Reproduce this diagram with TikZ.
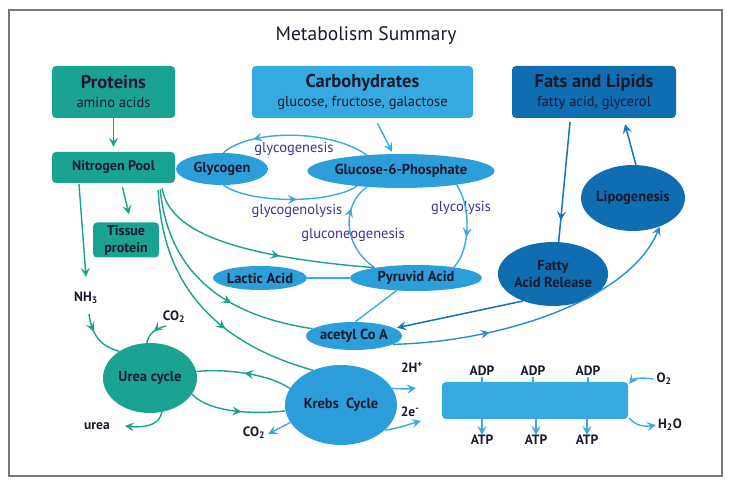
\documentclass[tikz,border=0pt]{standalone}
\usepackage{fontspec}
\setmainfont{PT Sans}
\usetikzlibrary{shapes.geometric,arrows.meta,decorations.markings}
\definecolor{tealc}{HTML}{1BA392}
\definecolor{tealline}{HTML}{1AA190}
\definecolor{lblue}{HTML}{35A9E0}
\definecolor{eblue}{HTML}{2C9FDB}
\definecolor{dblue}{HTML}{0F6DB2}
\definecolor{bline}{HTML}{3AAAE0}
\definecolor{dline}{HTML}{1672B8}
\definecolor{mline}{HTML}{2A8BD0}
\definecolor{txt}{HTML}{1A1A2E}
\definecolor{purp}{HTML}{3C3392}
\definecolor{framec}{HTML}{777777}
\tikzset{
  mtip/.tip={Stealth[length=9pt,width=9pt,inset=3.5pt]},
  ma/.style={postaction={decorate,decoration={markings,mark=at position #1 with {\arrow{mtip}}}}},
  tbox/.style={rectangle,rounded corners=4pt,inner sep=0pt,align=center,text=txt},
  ell/.style={ellipse,inner sep=0pt,text=txt,align=center,font=\bfseries\fontsize{14.5}{17}\selectfont},
  lab/.style={text=txt,inner sep=1pt,font=\bfseries\fontsize{13.5}{16}\selectfont},
  proc/.style={text=purp,inner sep=1pt,font=\fontsize{14.5}{17}\selectfont},
  tl/.style={draw=tealline,line width=1.4pt},
  bl/.style={draw=bline,line width=1.4pt},
  dl/.style={draw=dline,line width=1.5pt},
  ml/.style={draw=mline,line width=1.4pt},
}
\begin{document}
\begin{tikzpicture}[x=1pt,y=-1pt]
\useasboundingbox (0,0) rectangle (729,486);
\fill[white] (0,0) rectangle (729,486);
\draw[framec,line width=2.8pt] (9,10) rectangle (722,476);

\node[text=txt,font=\fontsize{19.5}{22}\selectfont] (title) at (366,36) {Metabolism Summary};

% boxes
\node[tbox,fill=tealc,minimum width=123,minimum height=52,font=\fontsize{14.5}{19}\selectfont] (prot) at (113.5,92)
  {{\bfseries\fontsize{18.5}{19}\selectfont Proteins}\\amino acids};
\node[tbox,fill=lblue,minimum width=221,minimum height=52,font=\fontsize{14.5}{19}\selectfont] (carb) at (362.5,92)
  {{\bfseries\fontsize{18.5}{19}\selectfont Carbohydrates}\\glucose, fructose, galactose};
\node[tbox,fill=dblue,minimum width=164,minimum height=52,font=\fontsize{14.5}{19}\selectfont] (fats) at (594,92)
  {{\bfseries\fontsize{18.5}{19}\selectfont Fats and Lipids}\\fatty acid, glycerol};
\node[tbox,fill=tealc,minimum width=123,minimum height=31,font=\bfseries\fontsize{14}{16}\selectfont] (npool) at (113.5,167.5) {Nitrogen Pool};
\node[tbox,fill=tealc,minimum width=66,minimum height=35,font=\bfseries\fontsize{14}{17}\selectfont] (tissue) at (126,240) {Tissue\\protein};

% ellipses
\node[ell,fill=eblue,minimum width=92,minimum height=32] (glyc) at (222,169) {Glycogen};
\node[ell,fill=eblue,minimum width=166,minimum height=34] (g6p) at (401,171) {Glucose-6-Phosphate};
\node[ell,fill=eblue,minimum width=94,minimum height=24] (lactic) at (260,278) {Lactic Acid};
\node[ell,fill=eblue,minimum width=132,minimum height=26] (pyr) at (416,278) {Pyruvid Acid};
\node[ell,fill=eblue,minimum width=94,minimum height=28] (acetyl) at (354,336) {acetyl Co A};
\node[ell,fill=dblue,minimum width=92,minimum height=64] (far) at (553,274) {Fatty\\Acid Release};
\node[ell,fill=dblue,minimum width=92,minimum height=66] (lipo) at (633,198) {Lipogenesis};
\node[ell,fill=tealc,minimum width=94,minimum height=70] (urea) at (150,378) {Urea cycle};
\node[ell,fill=eblue,minimum width=112,minimum height=80] (krebs) at (341,405) {Krebs\enspace Cycle};
\node[tbox,fill=lblue,minimum width=186,minimum height=37] (etc) at (535,400.5) {};

% process labels
\node[proc] (lgen) at (294,149) {glycogenesis};
\node[proc] (lgly) at (297,211) {glycogenolysis};
\node[proc] (lglyc) at (461,208) {glycolysis};
\node[proc] (lneo) at (353,235) {gluconeogenesis};

% plain labels
\node[lab] (nh3) at (86,298) {NH\textsubscript{3}};
\node[lab] (co2a) at (174,317) {CO\textsubscript{2}};
\node[lab] (urealab) at (97,426) {urea};
\node[lab] (co2b) at (254,433) {CO\textsubscript{2}};
\node[lab] (hplus) at (412,367) {2H\textsuperscript{+}};
\node[lab] (elec) at (410,412) {2e\textsuperscript{-}};
\node[lab] (adp1) at (482,371) {ADP};
\node[lab] (adp2) at (533,371) {ADP};
\node[lab] (adp3) at (588,371) {ADP};
\node[lab] (atp1) at (482,440) {ATP};
\node[lab] (atp2) at (536,440) {ATP};
\node[lab] (atp3) at (587,440) {ATP};
\node[lab] (o2) at (664,379) {O\textsubscript{2}};
\node[lab] (h2o) at (670,425) {H\textsubscript{2}O};
\coordinate (htip) at (416,388);
\coordinate (etip) at (421,421);

% protein connectors
\draw[tl,-{mtip}] (prot.south) -- ([yshift=5pt]npool.north);
\draw[tl,-{mtip}] ([xshift=9pt,yshift=-4pt]npool.south) -- ([xshift=3pt,yshift=8pt]tissue.north);
\draw[tl,-{mtip}] ([xshift=-34.5pt,yshift=-1pt]npool.south) -- ([xshift=0pt,yshift=14pt]nh3.north);
\draw[tl,ma=0.6] ([xshift=-13pt,yshift=-5pt]npool.south east) .. controls (168,225) and (215,255) .. (pyr.166);
\draw[tl,ma=0.62] ([xshift=-15pt,yshift=-6pt]npool.south east) .. controls (168,270) and (220,315) .. (acetyl.170);
\draw[tl,ma=0.62] ([xshift=-17pt,yshift=-7pt]npool.south east) .. controls (162,275) and (205,340) .. (krebs.129);

% carbohydrate connectors
\draw[bl,-{mtip}] ([xshift=15pt,yshift=-5pt]carb.south) -- ([xshift=-9pt,yshift=2pt]g6p.north);
\draw[bl,ma=0.78] (g6p.155) .. controls (330,129) and (250,129) .. (glyc.85);
\draw[bl,ma=0.55] (glyc.-85) .. controls (250,204) and (330,204) .. (g6p.199);
\draw[bl,ma=0.72] (pyr.166) .. controls (342,245) and (342,205) .. (g6p.205);
\draw[bl,ma=0.62] (g6p.-14) .. controls (471,205) and (471,250) .. (pyr.16);
\draw[bl] (lactic.east) -- (pyr.west);
\draw[bl] (pyr.213) -- (acetyl.85);

% lipid connectors
\draw[dl,ma=0.82] ([xshift=-24pt,yshift=-4pt]fats.south) -- (far.80);
\draw[dl,-{mtip}] (lipo.85) -- ([xshift=31pt,yshift=-6pt]fats.south);
\draw[dl,-{mtip}] (far.222) -- ([xshift=4pt]acetyl.12);
\draw[ml,ma=0.32,-{mtip}] (acetyl.-12) .. controls (500,342) and (630,300) .. (lipo.-47);

% urea cycle
\draw[tl,ma=0.35] ([xshift=3pt,yshift=-9pt]nh3.south) .. controls (92,335) and (100,346) .. (urea.139);
\draw[tl,ma=0.5] ([xshift=-8pt,yshift=-2pt]co2a.south) .. controls (155,328) and (148,335) .. (urea.95);
\draw[tl,-{mtip}] (urea.-71) .. controls (160,425) and (145,428) .. ([xshift=14pt]urealab.east);
\draw[tl,ma=0.5] (krebs.162) .. controls (265,372) and (220,369) .. (urea.8);
\draw[tl,ma=0.55] (urea.-21) .. controls (210,414) and (260,414) .. (krebs.186);

% krebs outputs
\draw[bl,-{mtip}] (krebs.199) -- ([xshift=2pt,yshift=-1pt]co2b.east);
\draw[bl,-{mtip}] (krebs.18) .. controls (402,389) and (408,389) .. (htip);
\draw[bl,-{mtip}] (krebs.-30) .. controls (400,428) and (410,424) .. (etip);

% electron transport
\draw[bl,line width=1.2pt] (adp1.south) -- (adp1.south |- etc.north);
\draw[bl,line width=1.2pt] (adp2.south) -- (adp2.south |- etc.north);
\draw[bl,line width=1.2pt] (adp3.south) -- (adp3.south |- etc.north);
\draw[bl,-{mtip}] (atp1.north |- etc.south) -- ([yshift=-1pt]atp1.north);
\draw[bl,-{mtip}] (atp2.north |- etc.south) -- ([yshift=-1pt]atp2.north);
\draw[bl,-{mtip}] (atp3.north |- etc.south) -- ([yshift=-1pt]atp3.north);
\draw[bl,-{mtip}] ([xshift=-2pt]o2.west) .. controls (640,377) and (633,379) .. ([xshift=1pt,yshift=-2pt]etc.north east);
\draw[bl,-{mtip}] ([xshift=1pt,yshift=1pt]etc.south east) .. controls (636,426) and (645,427) .. ([xshift=-1pt]h2o.west);
\end{tikzpicture}
\end{document}
